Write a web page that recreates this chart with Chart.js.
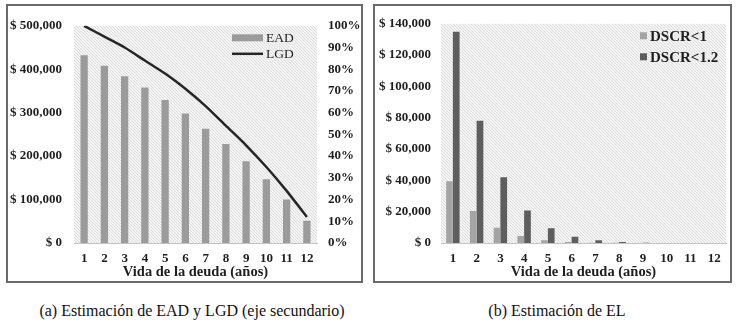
<!DOCTYPE html>
<html>
<head>
<meta charset="utf-8">
<script src="https://cdn.jsdelivr.net/npm/chart.js@4"></script>
<style>
  html, body { margin: 0; padding: 0; background: #fff; }
  body { width: 737px; height: 328px; position: relative; overflow: hidden; font-family: "Liberation Serif", "Times New Roman", serif; }
  .panel { position: absolute; box-sizing: border-box; border: 2px solid #6a6a6a; background: #fff; }
  .panel canvas { position: absolute; }
  .cap { position: absolute; font-size: 16px; color: #111; white-space: nowrap; transform: translateX(-50%); }
</style>
</head>
<body>
<div class="panel" style="left:6px; top:4px; width:357px; height:279px;">
  <canvas id="c1" width="353" height="275" style="left:0; top:0; width:353px; height:275px;"></canvas>
</div>
<div class="panel" style="left:373px; top:4px; width:359px; height:279px;">
  <canvas id="c2" width="355" height="275" style="left:0; top:0; width:355px; height:275px;"></canvas>
</div>
<div class="cap" style="left:192px; top:302px;">(a) Estimación de EAD y LGD (eje secundario)</div>
<div class="cap" style="left:557px; top:302px;">(b) Estimación de EL</div>

<script>
// ---- data ----
const years = ['1','2','3','4','5','6','7','8','9','10','11','12'];
const eadValues = [432000, 408000, 384000, 358000, 329000, 298000, 263000, 228000, 188000, 147000, 100000, 51000];
const lgdValues = [1.00, 0.95, 0.90, 0.84, 0.78, 0.71, 0.63, 0.54, 0.45, 0.35, 0.24, 0.12];
const dscr1Values = [39500, 20400, 9800, 4400, 1700, 600, 200, 100, 0, 0, 0, 0];
const dscr12Values = [135000, 78000, 42000, 20800, 9400, 4000, 1700, 700, 200, 0, 0, 0];
const xTitle = 'Vida de la deuda (años)';

const SERIF = '"Liberation Serif", "Times New Roman", serif';

function makeHatch() {
  const t = document.createElement('canvas');
  t.width = 3; t.height = 3;
  const g = t.getContext('2d');
  g.fillStyle = '#f4f4f4';
  g.fillRect(0, 0, 3, 3);
  g.fillStyle = '#dedede';
  g.fillRect(0, 0, 1, 1);
  g.fillRect(1, 1, 1, 1);
  g.fillRect(2, 2, 1, 1);
  return t;
}
const hatchTile = makeHatch();

const hatchPlugin = {
  id: 'hatch',
  beforeDraw(chart) {
    const { ctx, chartArea: a } = chart;
    ctx.save();
    ctx.fillStyle = ctx.createPattern(hatchTile, 'repeat');
    ctx.fillRect(a.left, a.top, a.right - a.left, a.bottom - a.top);
    ctx.restore();
  }
};

const legendPlugin = {
  id: 'inlegend',
  afterDatasetsDraw(chart, args, opts) {
    const { ctx, chartArea: a } = chart;
    ctx.save();
    ctx.font = opts.font;
    ctx.textBaseline = 'middle';
    ctx.textAlign = 'left';
    chart.data.datasets.forEach((ds, i) => {
      const y = a.top + opts.top + i * opts.gap;
      const x = a.right - opts.right;
      if (ds.type === 'line') {
        ctx.strokeStyle = ds.borderColor;
        ctx.lineWidth = 2.5;
        ctx.beginPath();
        ctx.moveTo(x, y); ctx.lineTo(x + opts.sw, y);
        ctx.stroke();
      } else {
        ctx.fillStyle = ds.backgroundColor;
        ctx.fillRect(x, y - opts.sh / 2, opts.sw, opts.sh);
      }
      ctx.fillStyle = '#1e1e1e';
      ctx.fillText(ds.label, x + opts.sw + 3, y + 1);
    });
    ctx.restore();
  }
};

function money(v) {
  return '$ ' + Number(v).toLocaleString('en-US');
}

const tickFont = { family: SERIF, size: 13, weight: 'bold' };
const titleFont = { family: SERIF, size: 14.5, weight: 'bold' };

function xScale() {
  return {
    grid: { display: false, drawTicks: false },
    border: { display: true, color: '#c4c4c4', width: 1 },
    ticks: { color: '#1e1e1e', font: tickFont, padding: 8, maxRotation: 0, autoSkip: false },
    title: { display: true, text: xTitle, color: '#1e1e1e', font: titleFont, padding: { top: 0, bottom: 0 } },
    afterFit(s) { s.height = 38; }
  };
}

new Chart(document.getElementById('c1'), {
  data: {
    labels: years,
    datasets: [
      { type: 'bar', label: 'EAD', data: eadValues, backgroundColor: '#9b9b9b', yAxisID: 'y',
        barPercentage: 0.36, categoryPercentage: 1, order: 2 },
      { type: 'line', label: 'LGD', data: lgdValues, borderColor: '#262626', borderWidth: 2.5,
        pointRadius: 0, tension: 0.25, yAxisID: 'y1', order: 1 }
    ]
  },
  options: {
    responsive: false, animation: false,
    layout: { padding: { top: 14, left: 0, right: 0, bottom: 0 } },
    plugins: {
      legend: { display: false }, tooltip: { enabled: false },
      inlegend: { font: '13.5px ' + SERIF, top: 12, gap: 16, right: 85, sw: 31, sh: 7 }
    },
    scales: {
      x: xScale(),
      y: {
        position: 'left', min: 0, max: 500000,
        grid: { display: false, drawTicks: false }, border: { display: false },
        ticks: { stepSize: 100000, color: '#1e1e1e', font: tickFont, padding: 12, callback: v => money(v) },
        afterFit(s) { s.width = 66; }
      },
      y1: {
        position: 'right', min: 0, max: 1,
        grid: { display: false, drawTicks: false }, border: { display: false },
        ticks: { stepSize: 0.1, color: '#1e1e1e', font: tickFont, padding: 11, callback: v => Math.round(v * 100) + '%' },
        afterFit(s) { s.width = 44; }
      }
    }
  },
  plugins: [hatchPlugin, legendPlugin]
});

new Chart(document.getElementById('c2'), {
  type: 'bar',
  data: {
    labels: years,
    datasets: [
      { label: 'DSCR<1', data: dscr1Values, backgroundColor: '#a4a4a4', barPercentage: 1, categoryPercentage: 0.565 },
      { label: 'DSCR<1.2', data: dscr12Values, backgroundColor: '#5e5e5e', barPercentage: 1, categoryPercentage: 0.565 }
    ]
  },
  options: {
    responsive: false, animation: false,
    layout: { padding: { top: 14, left: 0, right: 4, bottom: 0 } },
    plugins: {
      legend: { display: false }, tooltip: { enabled: false },
      inlegend: { font: 'bold 15px ' + SERIF, top: 12, gap: 21, right: 86, sw: 7, sh: 7 }
    },
    scales: {
      x: xScale(),
      y: {
        min: 0, max: 140000,
        grid: { display: false, drawTicks: false }, border: { display: false },
        ticks: { stepSize: 20000, color: '#1e1e1e', font: tickFont, padding: 10, callback: v => money(v) },
        afterFit(s) { s.width = 66; }
      }
    }
  },
  plugins: [hatchPlugin, legendPlugin]
});
</script>
</body>
</html>
